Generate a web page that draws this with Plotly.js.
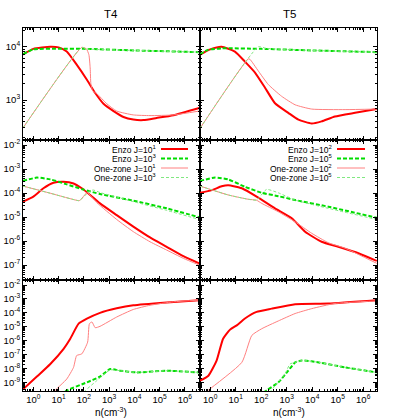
<!DOCTYPE html>
<html>
<head>
<meta charset="utf-8">
<script src="https://cdn.plot.ly/plotly-3.0.1.min.js"></script>
<style>
  html, body { margin: 0; padding: 0; background: #fff; }
  #chart { width: 400px; height: 420px; }
</style>
</head>
<body>
<div id="chart"></div>
<script>
(function () {
  "use strict";

  // ---- data: n (cm^-3) and the panel quantity ----
  // T4, top row
  var T4_TOP_ENZO_LO_N = [0.39, 1, 4.7, 10, 21, 52, 132, 282, 600, 1500, 3700, 9100, 23000, 76000, 355000, 3.7e6];
  var T4_TOP_ENZO_LO_Y = [7200, 9100, 10000, 9700, 8100, 4600, 2400, 1350, 850, 620, 480, 430, 420, 460, 520, 710];
  var T4_TOP_ENZO_HI_N = [0.39, 1, 10, 100, 1e4, 3.7e6];
  var T4_TOP_ENZO_HI_Y = [7200, 8900, 9100, 9100, 8500, 7900];
  var T4_TOP_ONE_LO_N = [0.39, 83, 126, 158, 178, 190, 224, 324, 810, 2000, 9100, 41700, 355000, 3.7e6];
  var T4_TOP_ONE_LO_Y = [300, 9700, 9100, 7100, 4000, 2000, 1480, 1320, 850, 620, 525, 510, 525, 620];
  var T4_TOP_ONE_HI_N = [0.39, 83, 126, 1e4, 3.7e6];
  var T4_TOP_ONE_HI_Y = [300, 9700, 9100, 8500, 7900];

  // T5, top row
  var T5_TOP_ENZO_LO_N = [0.4, 1, 2.8, 9.3, 23, 58, 141, 347, 1150, 2880, 9550, 23400, 77600, 479000, 3.4e6];
  var T5_TOP_ENZO_LO_Y = [7100, 8900, 10000, 8100, 5250, 3240, 1700, 870, 575, 427, 363, 398, 490, 575, 676];
  var T5_TOP_ENZO_HI_N = [0.4, 0.8, 2.8, 100, 1e4, 3.4e6];
  var T5_TOP_ENZO_HI_Y = [7200, 8700, 9300, 9100, 8500, 7900];
  var T5_TOP_ONE_LO_N = [0.4, 31, 36, 78, 190, 630, 2140, 9550, 195000, 3.4e6];
  var T5_TOP_ONE_LO_Y = [295, 5900, 5800, 3470, 1950, 1175, 813, 676, 660, 676];
  var T5_TOP_ONE_HI_N = [0.4, 78, 158, 1e4, 3.4e6];
  var T5_TOP_ONE_HI_Y = [295, 10000, 9300, 8500, 7900];

  // T4, middle row
  var T4_MID_ENZO_LO_N = [0.39, 1, 2.5, 6.3, 15.5, 39, 83, 178, 437, 2000, 9100, 41700, 190000, 871000, 3.7e6];
  var T4_MID_ENZO_LO_Y = [4.4e-5, 7.1e-5, 1.58e-4, 2.7e-4, 2.95e-4, 2.5e-4, 1.58e-4, 8.3e-5, 3.7e-5, 1.2e-5, 4.0e-6, 1.41e-6, 5.75e-7, 2.34e-7, 1.17e-7];
  var T4_MID_ENZO_HI_N = [0.39, 1.38, 4.7, 21, 95, 437, 9100, 190000, 3.7e6];
  var T4_MID_ENZO_HI_Y = [3.2e-4, 4.4e-4, 3.7e-4, 2.3e-4, 1.4e-4, 9.1e-5, 4.8e-5, 2.3e-5, 9.8e-6];
  var T4_MID_ONE_LO_N = [0.39, 4.7, 62, 71, 126, 138, 324, 2000, 9100, 41700, 190000, 871000, 3.7e6];
  var T4_MID_ONE_LO_Y = [1.95e-4, 9.8e-5, 4.8e-5, 5.0e-5, 1.0e-4, 1.05e-4, 4.0e-5, 7.9e-6, 2.45e-6, 9.3e-7, 4.2e-7, 1.9e-7, 1.0e-7];
  var T4_MID_ONE_HI_N = [0.39, 4.7, 62, 71, 178, 240, 437, 2000, 9100, 190000, 3.7e6];
  var T4_MID_ONE_HI_Y = [1.95e-4, 9.8e-5, 4.8e-5, 5.0e-5, 1.26e-4, 1.33e-4, 1.05e-4, 6.8e-5, 4.4e-5, 1.9e-5, 7.9e-6];

  // T5, middle row
  var T5_MID_ENZO_LO_N = [0.4, 1.15, 2.8, 5.1, 17.4, 66, 347, 1580, 5250, 23400, 105000, 646000, 3.4e6];
  var T5_MID_ENZO_LO_Y = [1.02e-4, 1.32e-4, 1.9e-4, 2.1e-4, 1.58e-4, 7.1e-5, 2.3e-5, 8.9e-6, 2.45e-6, 9.3e-7, 5.75e-7, 3.1e-7, 1.48e-7];
  var T5_MID_ENZO_HI_N = [0.4, 1.55, 5.1, 23, 105, 468, 2140, 42700, 3.4e6];
  var T5_MID_ENZO_HI_Y = [3.2e-4, 4.4e-4, 3.7e-4, 1.82e-4, 1.02e-4, 7.4e-5, 5.1e-5, 2.7e-5, 9.3e-6];
  var T5_MID_ONE_LO_N = [0.4, 5.1, 31, 66, 105, 468, 2140, 9550, 42700, 195000, 3.4e6];
  var T5_MID_ONE_LO_Y = [1.95e-4, 8.3e-5, 5.5e-5, 5.0e-5, 3.7e-5, 1.66e-5, 6.3e-6, 2.1e-6, 8.5e-7, 5.0e-7, 1.17e-7];
  var T5_MID_ONE_HI_N = [0.4, 5.1, 31, 66, 162, 468, 2140, 42700, 3.4e6];
  var T5_MID_ONE_HI_Y = [1.95e-4, 8.3e-5, 5.5e-5, 5.1e-5, 1.41e-4, 1.02e-4, 5.1e-5, 2.3e-5, 7.9e-6];

  // T4, bottom row
  var T4_BOT_ENZO_LO_N = [0.39, 1.38, 4.7, 15.8, 29, 62, 132, 437, 2000, 9100, 190000, 3.7e6];
  var T4_BOT_ENZO_LO_Y = [3.2e-10, 2.6e-9, 2.1e-8, 2.6e-7, 1.38e-6, 1.66e-5, 3.8e-5, 1.0e-4, 2.1e-4, 3.5e-4, 5.6e-4, 8.1e-4];
  var T4_BOT_ENZO_HI_N = [12.6, 20, 132, 437, 1100, 2700, 12300, 190000, 3.7e6];
  var T4_BOT_ENZO_HI_Y = [1e-10, 2.45e-10, 1e-9, 2.6e-9, 9.1e-9, 6.9e-9, 5.2e-9, 6.9e-9, 5.2e-9];
  var T4_BOT_ONE_LO_N = [4.5, 7.4, 21, 39, 52, 83, 141, 166, 209, 282, 437, 2000, 9100, 41700, 355000, 3.7e6];
  var T4_BOT_ONE_LO_Y = [1e-10, 2.75e-10, 1.74e-9, 1.2e-8, 8.5e-8, 1.12e-7, 7.8e-7, 1.66e-5, 2.2e-5, 8.5e-6, 1.07e-5, 5e-5, 1.74e-4, 3.5e-4, 6.2e-4, 8.1e-4];
  var T4_BOT_ONE_HI_N = [80, 112, 324, 1100, 2700, 12300, 190000, 3.7e6];
  var T4_BOT_ONE_HI_Y = [1e-10, 2.45e-10, 1.32e-9, 7.9e-9, 6.9e-9, 5.2e-9, 6.9e-9, 5.2e-9];

  // T5, bottom row
  var T5_BOT_ENZO_LO_N = [0.4, 0.85, 1.78, 3.2, 6, 11, 23, 66, 257, 2140, 42700, 3.4e6];
  var T5_BOT_ENZO_LO_Y = [1.32e-9, 3e-9, 3.7e-8, 1.38e-6, 6.2e-6, 1.26e-5, 3.9e-5, 1.17e-4, 2.0e-4, 4.2e-4, 4.7e-4, 8.1e-4];
  var T5_BOT_ENZO_HI_N = [79, 166, 468, 1150, 2140, 3900, 9550, 195000, 3.4e6];
  var T5_BOT_ENZO_HI_Y = [1e-10, 2.75e-10, 1e-9, 6.9e-9, 2.75e-8, 3.7e-8, 3.3e-8, 1.2e-8, 5.2e-9];
  var T5_BOT_ONE_LO_N = [0.4, 0.85, 17.4, 43, 105, 468, 2140, 9550, 77600, 3.4e6];
  var T5_BOT_ONE_LO_Y = [8.7e-11, 2.75e-10, 2.75e-8, 2.4e-6, 7.2e-6, 2.6e-5, 8.9e-5, 2.0e-4, 4.7e-4, 7.2e-4];
  var T5_BOT_ONE_HI_N = [158, 347, 850, 1350, 2140, 3900, 9550, 195000, 3.4e6];
  var T5_BOT_ONE_HI_Y = [1e-10, 5.6e-10, 4e-9, 2.1e-8, 2.75e-8, 3.7e-8, 3.3e-8, 1.2e-8, 5.2e-9];

  var LEGEND_T4 = ["Enzo J=10<sup>1</sup>", "Enzo J=10<sup>3</sup>", "One-zone J=10<sup>1</sup>", "One-zone J=10<sup>3</sup>"];
  var LEGEND_T5 = ["Enzo J=10<sup>2</sup>", "Enzo J=10<sup>5</sup>", "One-zone J=10<sup>2</sup>", "One-zone J=10<sup>5</sup>"];

  var X_TICKS = [1, 10, 100, 1e3, 1e4, 1e5, 1e6];
  var X_TICK_TEXT = ["10<sup>0</sup>", "10<sup>1</sup>", "10<sup>2</sup>", "10<sup>3</sup>", "10<sup>4</sup>", "10<sup>5</sup>", "10<sup>6</sup>"];
  var TOP_TICKS = [1e3, 1e4];
  var TOP_TICK_TEXT = ["10<sup>3</sup>", "10<sup>4</sup>"];
  var MID_TICKS = [1e-2, 1e-3, 1e-4, 1e-5, 1e-6, 1e-7];
  var MID_TICK_TEXT = ["10<sup>-2</sup>", "10<sup>-3</sup>", "10<sup>-4</sup>", "10<sup>-5</sup>", "10<sup>-6</sup>", "10<sup>-7</sup>"];
  var BOT_TICKS = [1e-2, 1e-3, 1e-4, 1e-5, 1e-6, 1e-7, 1e-8, 1e-9];
  var BOT_TICK_TEXT = ["10<sup>-2</sup>", "10<sup>-3</sup>", "10<sup>-4</sup>", "10<sup>-5</sup>", "10<sup>-6</sup>", "10<sup>-7</sup>", "10<sup>-8</sup>", "10<sup>-9</sup>"];

  // ---- styles ----
  var FONT = "Liberation Sans, Arial, Helvetica, sans-serif";
  var STYLES = [
    { color: "#ff0000", width: 2, dash: "solid" },   // Enzo, low J
    { color: "#00dd00", width: 2, dash: "4px,2px" }, // Enzo, high J
    { color: "#ff8080", width: 1, dash: "solid" },   // One-zone, low J
    { color: "#80e880", width: 1, dash: "3px,2px" }  // One-zone, high J
  ];

  var W = 400, H = 420;
  function px(x) { return x / W; }
  function py(y) { return 1 - y / H; }

  var COL_X = [[px(23), px(200)], [px(200), px(377)]];
  var COL_RANGE = [[-0.41, 6.6], [-0.4, 6.54]];
  var ROW_Y = [[py(140), py(28)], [py(280), py(140)], [py(391), py(280)]];
  var ROW_RANGE = [[2.25, 4.35], [-7.625, -1.79], [-9.62, -1.64]];
  var ROW_TICKS = [[TOP_TICKS, TOP_TICK_TEXT], [MID_TICKS, MID_TICK_TEXT], [BOT_TICKS, BOT_TICK_TEXT]];

  // panels in subplot order: row-major, left then right
  var PANELS = [
    [[T4_TOP_ENZO_LO_N, T4_TOP_ENZO_LO_Y], [T4_TOP_ENZO_HI_N, T4_TOP_ENZO_HI_Y], [T4_TOP_ONE_LO_N, T4_TOP_ONE_LO_Y], [T4_TOP_ONE_HI_N, T4_TOP_ONE_HI_Y]],
    [[T5_TOP_ENZO_LO_N, T5_TOP_ENZO_LO_Y], [T5_TOP_ENZO_HI_N, T5_TOP_ENZO_HI_Y], [T5_TOP_ONE_LO_N, T5_TOP_ONE_LO_Y], [T5_TOP_ONE_HI_N, T5_TOP_ONE_HI_Y]],
    [[T4_MID_ENZO_LO_N, T4_MID_ENZO_LO_Y], [T4_MID_ENZO_HI_N, T4_MID_ENZO_HI_Y], [T4_MID_ONE_LO_N, T4_MID_ONE_LO_Y], [T4_MID_ONE_HI_N, T4_MID_ONE_HI_Y]],
    [[T5_MID_ENZO_LO_N, T5_MID_ENZO_LO_Y], [T5_MID_ENZO_HI_N, T5_MID_ENZO_HI_Y], [T5_MID_ONE_LO_N, T5_MID_ONE_LO_Y], [T5_MID_ONE_HI_N, T5_MID_ONE_HI_Y]],
    [[T4_BOT_ENZO_LO_N, T4_BOT_ENZO_LO_Y], [T4_BOT_ENZO_HI_N, T4_BOT_ENZO_HI_Y], [T4_BOT_ONE_LO_N, T4_BOT_ONE_LO_Y], [T4_BOT_ONE_HI_N, T4_BOT_ONE_HI_Y]],
    [[T5_BOT_ENZO_LO_N, T5_BOT_ENZO_LO_Y], [T5_BOT_ENZO_HI_N, T5_BOT_ENZO_HI_Y], [T5_BOT_ONE_LO_N, T5_BOT_ONE_LO_Y], [T5_BOT_ONE_HI_N, T5_BOT_ONE_HI_Y]]
  ];

  function baseAxis() {
    return {
      type: "log",
      showline: true, linecolor: "#000", linewidth: 1,
      mirror: "allticks",
      ticks: "inside", ticklen: 4, tickwidth: 1, tickcolor: "#000",
      tickmode: "array",
      showgrid: false, zeroline: false,
      minor: { dtick: "D1", ticks: "inside", ticklen: 2, tickwidth: 1, tickcolor: "#000", showgrid: false },
      tickfont: { family: FONT, size: 9.5, color: "#000" },
      fixedrange: true
    };
  }

  var traces = [];
  var layout = {
    width: W, height: H,
    margin: { l: 0, r: 0, t: 0, b: 0 },
    paper_bgcolor: "#fff", plot_bgcolor: "#fff",
    showlegend: false,
    font: { family: FONT, size: 9, color: "#000" },
    annotations: [], shapes: []
  };

  PANELS.forEach(function (series, i) {
    var row = Math.floor(i / 2), col = i % 2;
    var id = i === 0 ? "" : String(i + 1);

    var xa = baseAxis();
    xa.domain = COL_X[col];
    xa.range = COL_RANGE[col];
    xa.anchor = "y" + id;
    xa.tickvals = X_TICKS;
    xa.ticktext = X_TICK_TEXT;
    xa.showticklabels = row === 2;
    layout["xaxis" + id] = xa;

    var ya = baseAxis();
    ya.domain = ROW_Y[row];
    ya.range = ROW_RANGE[row];
    ya.anchor = "x" + id;
    ya.tickvals = ROW_TICKS[row][0];
    ya.ticktext = ROW_TICKS[row][1];
    ya.showticklabels = col === 0;
    layout["yaxis" + id] = ya;

    series.forEach(function (s, k) {
      traces.push({
        type: "scatter", mode: "lines",
        x: s[0], y: s[1],
        xaxis: "x" + id, yaxis: "y" + id,
        line: { color: STYLES[k].color, width: STYLES[k].width, dash: STYLES[k].dash, shape: "spline", smoothing: 0.5 },
        hoverinfo: "skip"
      });
    });
  });

  // column titles and x titles
  function label(text, x, y, size, align) {
    layout.annotations.push({
      xref: "paper", yref: "paper", x: px(x), y: py(y),
      xanchor: align || "center", yanchor: "middle",
      text: text, showarrow: false,
      font: { family: FONT, size: size, color: "#000" }
    });
  }
  label("T4", 111, 14, 11.5);
  label("T5", 289, 14, 11.5);
  label("n(cm<sup>-3</sup>)", 111, 412, 10);
  label("n(cm<sup>-3</sup>)", 289, 412, 10);

  // gnuplot-style key: text right-aligned, sample line to its right
  function key(texts, textRight, x0, x1) {
    var rows = [149, 158.5, 168, 177.5];
    texts.forEach(function (t, k) {
      label(t, textRight, rows[k], 8.5, "right");
      layout.shapes.push({
        type: "line", xref: "paper", yref: "paper",
        x0: px(x0), x1: px(x1), y0: py(rows[k]), y1: py(rows[k]),
        line: { color: STYLES[k].color, width: STYLES[k].width, dash: STYLES[k].dash }
      });
    });
  }
  key(LEGEND_T4, 158, 161, 188);
  key(LEGEND_T5, 334, 337, 365);

  Plotly.newPlot("chart", traces, layout, { staticPlot: true, displayModeBar: false });
})();
</script>
</body>
</html>
